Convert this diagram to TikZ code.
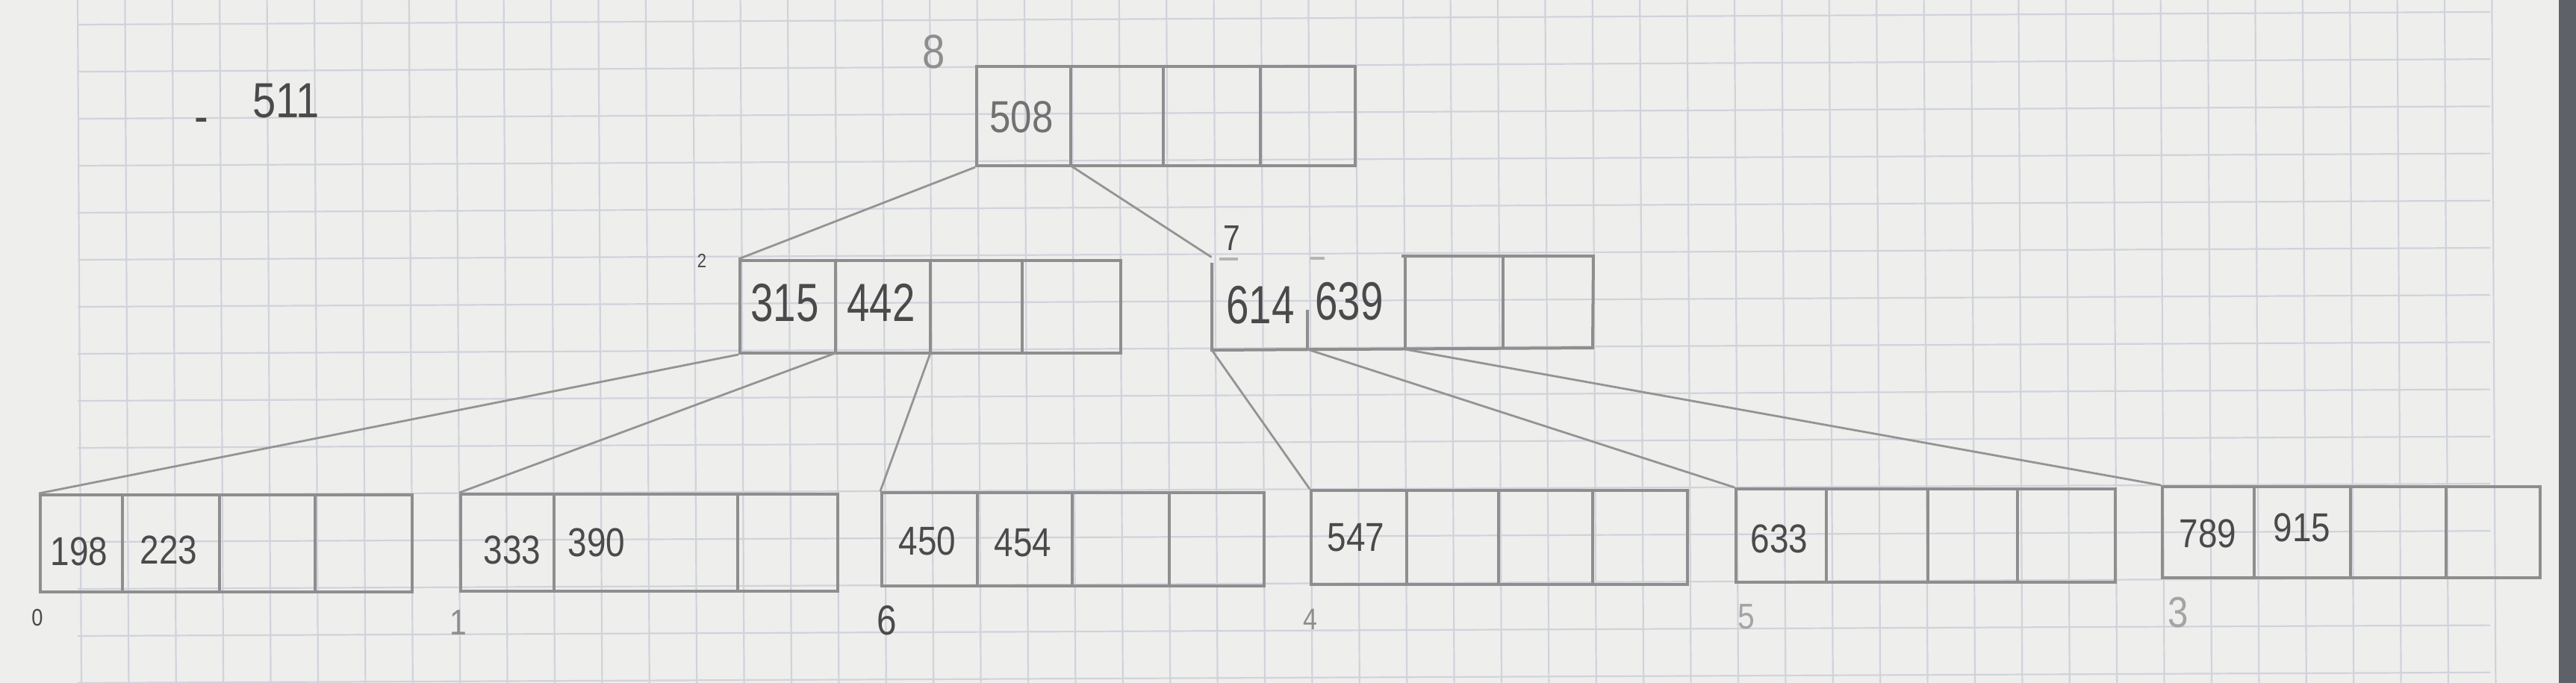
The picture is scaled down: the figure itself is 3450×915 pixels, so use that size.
\documentclass[tikz,border=0pt]{standalone}
\usepackage{fontspec}
\setmainfont{Liberation Sans}[FakeStretch=0.85]
\newfontfamily\narrowhand{Liberation Sans}[FakeStretch=0.76]
\usetikzlibrary{fit}
\definecolor{paper}{HTML}{EEEEED}
\definecolor{gridc}{HTML}{D0D3DB}
\definecolor{pencil}{HTML}{8E8E8E}
\definecolor{lead}{HTML}{4A4A4A}
\definecolor{faint}{HTML}{A4A4A4}
\definecolor{scanedge}{HTML}{5E6268}
\tikzset{
  box/.style={draw=pencil, line width=2pt, inner sep=0pt, fit={#1}},
  frame/.style={inner sep=0pt, fit={#1}},
  divline/.style={draw=pencil, line width=1.8pt},
  tick/.style={draw=pencil!60!paper, line width=1.6pt},
  conn/.style={draw=pencil!95!white, line width=1.4pt},
  gridline/.style={draw=gridc, line width=1.1pt},
  num/.style={text=lead, anchor=base, inner sep=0pt},
  numL/.style={num, font=\narrowhand\fontsize{36}{36}\selectfont},
  numM/.style={num, font=\fontsize{30}{30}\selectfont},
  numS/.style={num, font=\fontsize{27}{27}\selectfont},
  lbl/.style={anchor=base, inner sep=0pt, text=#1},
}
% name, x1, y1, x2, y2, d1, d2, d3
\newcommand{\bnode}[8]{%
  \node[box={(#2,#3) (#4,#5)}] (#1) {};
  \coordinate (#1-d1) at (#6,#5);
  \coordinate (#1-d2) at (#7,#5);
  \draw[divline] (#6,#3) -- (#6,#5);
  \draw[divline] (#7,#3) -- (#7,#5);
  \draw[divline] (#8,#3) -- (#8,#5);
}
\begin{document}
\begin{tikzpicture}[x=0.5pt,y=-0.5pt]
\useasboundingbox (0,0) rectangle (3450,915);
% paper and scan edge
\fill[paper] (0,0) rectangle (3427,915);
\fill[scanedge] (3427,0) rectangle (3450,915);
% graph paper grid
\foreach \k in {0,...,14} {
  \draw[gridline] (104,{33+63*\k}) -- (3335,{16+63.2*\k});
}
\foreach \k in {0,...,51} {
  \draw[gridline] ({104+63.4*\k},0) -- ({109+63.4*\k},915);
}

% root
\bnode{root}{1308}{89}{1815}{222}{1434}{1558}{1688}
% level 2, left
\bnode{la}{991}{349}{1501}{473}{1119}{1246}{1369}
% level 2, right (top edge only partly drawn)
\node[frame={(1623,345) (2133,468)}] (lb) {};
\coordinate (lb-d1) at (1751,468);
\coordinate (lb-d2) at (1882,468);
\draw[divline, line width=2pt] (1623,352) -- (1623,469) -- (2133,466) -- (2134,343) -- (1877,343);
\draw[tick] (1633,347) -- (1658,347);
\draw[tick] (1755,346) -- (1774,346);
\draw[divline] (1751,415) -- (1751,468);
\draw[divline] (1882,345) -- (1882,467);
\draw[divline] (2013,345) -- (2013,466);

% level 3
\bnode{n0}{54}{663}{552}{793}{164}{294}{422}
\node[box={(617,662) (1122,792)}] (n1) {};
\draw[divline] (742,662) -- (742,792);
\draw[divline] (988,662) -- (988,792);
\bnode{n6}{1181}{660}{1693}{785}{1309}{1436}{1566}
\bnode{n4}{1756}{657}{2260}{783}{1884}{2007}{2133}
\bnode{n5}{2325}{655}{2833}{780}{2446}{2582}{2702}
\bnode{n3}{2896}{652}{3402}{774}{3019}{3148}{3276}

% connectors
\draw[conn] (root.south west) -- (la.north west);
\draw[conn] (root-d1) -- (lb.north west);
\draw[conn] (la.south west) -- (n0.north west);
\draw[conn] (la-d1) -- (n1.north west);
\draw[conn] (la-d2) -- (n6.north west);
\draw[conn] (lb.south west) -- (n4.north west);
\draw[conn] (lb-d1) -- (n5.north west);
\draw[conn] (lb-d2) -- (n3.north west);

% keys
\node[numM, text=pencil!80!black] (k508) at (1368,177) {508};
\node[numL] (k315) at (1051,430) {315};
\node[numL] (k442) at (1180,430) {442};
\node[numL] (k614) at (1688,433) {614};
\node[numL] (k639) at (1807,428) {639};
\node[numS] (k198) at (106,757) {198};
\node[numS] (k223) at (226,755) {223};
\node[numS] (k333) at (686,755) {333};
\node[numS] (k390) at (799,745) {390};
\node[numS] (k450) at (1242,743) {450};
\node[numS] (k454) at (1370,745) {454};
\node[numS] (k547) at (1816,738) {547};
\node[numS] (k633) at (2383,740) {633};
\node[numS] (k789) at (2957,733) {789};
\node[numS] (k915) at (3083,725) {915};

% page labels
\node[lbl=pencil, font=\fontsize{32}{32}\selectfont] (p8) at (1251,92) {8};
\node[lbl=lead, font=\fontsize{13}{13}\selectfont] (p2) at (940,358) {2};
\node[lbl=lead, font=\fontsize{24}{24}\selectfont] (p7) at (1650,335) {7};
\node[lbl=lead, font=\fontsize{16}{16}\selectfont] (p0) at (50,838) {0};
\node[lbl=pencil, font=\fontsize{24}{24}\selectfont] (p1) at (614,850) {1};
\node[lbl=lead, font=\fontsize{28}{28}\selectfont] (p6) at (1188,850) {6};
\node[lbl=pencil, font=\fontsize{20}{20}\selectfont] (p4) at (1755,843) {4};
\node[lbl=faint, font=\fontsize{24}{24}\selectfont] (p5) at (2339,842) {5};
\node[lbl=faint, font=\fontsize{29}{29}\selectfont] (p3) at (2917,840) {3};

% deleted key note
\node[lbl=lead, font=\fontsize{33}{33}\selectfont] (minus) at (270,178) {-};
\node[lbl=lead, font=\fontsize{33}{33}\selectfont] (k511) at (383,157) {511};
\end{tikzpicture}
\end{document}
